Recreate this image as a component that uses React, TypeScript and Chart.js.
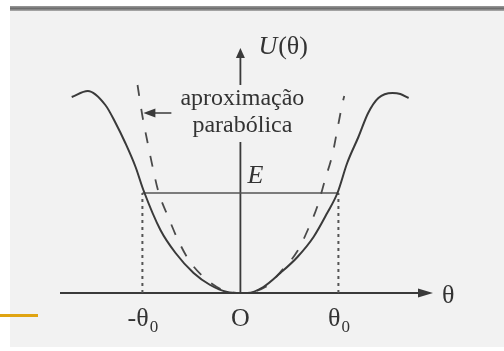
import { useEffect, useRef } from "react";
import { Chart, registerables } from "chart.js";

Chart.register(...registerables);

// Pendulum potential U(θ), sampled along the full well (θ in rad)
const potentialTheta = [-3.46, -3.13, -2.77, -2.56, -2.36, -2.15, -1.99, -1.64, -1.33, -0.96, -0.62, -0.27, 0, 0.14, 0.47, 0.82, 1.17, 1.5, 1.78, 1.99, 2.19, 2.42, 2.62, 2.83, 3.12, 3.28, 3.45];
const potentialU = [1.96, 2.02, 1.88, 1.7, 1.5, 1.26, 1.03, 0.63, 0.4, 0.2, 0.08, 0.01, 0, 0.0, 0.06, 0.2, 0.36, 0.56, 0.8, 1.0, 1.3, 1.56, 1.8, 1.95, 2.0, 1.99, 1.95];

// Small-angle (parabolic) approximation of the same well
const parabolaTheta = [-2.11, -2.01, -1.91, -1.8, -1.68, -1.48, -1.27, -1.03, -0.66, -0.31, 0, 0.51, 0.82, 1.17, 1.39, 1.58, 1.74, 1.89, 1.99, 2.09, 2.13];
const parabolaU = [2.08, 1.77, 1.52, 1.26, 1.01, 0.76, 0.52, 0.31, 0.12, 0.02, 0, 0.06, 0.21, 0.42, 0.64, 0.87, 1.14, 1.39, 1.64, 1.89, 1.97];

// Energy level and its turning points ±θ0
const THETA0 = 2.01;
const ENERGY = 1.0;

// θ-axis tick marks
const tickValues = [-THETA0, 0, THETA0];
const tickLabels = ["-θ", "O", "θ"];
const tickSubscripts = ["0", "", "0"];

const noteLines = ["aproximação", "parabólica"];
const axisLabelU = ["U", "(θ)"];
const axisLabelTheta = "θ";
const energyLabel = "E";

// Where the note's arrow points (on the parabola) and the break in the U axis
const noteArrowTip = { x: -1.99, y: 1.8 };
const axisBreak = [1.51, 2.08];

const SERIF = '"Liberation Serif", "Times New Roman", serif';
const INK = "#333333";
const LINE = "#3a3a3a";

const toPoints = (xs: number[], ys: number[]) => xs.map((x, i) => ({ x, y: ys[i] }));

function arrowHead(ctx: CanvasRenderingContext2D, tipX: number, tipY: number, dirX: number, dirY: number, len: number, half: number) {
  const bx = tipX - dirX * len;
  const by = tipY - dirY * len;
  ctx.beginPath();
  ctx.moveTo(tipX, tipY);
  ctx.lineTo(bx - dirY * half, by + dirX * half);
  ctx.lineTo(bx + dirY * half, by - dirX * half);
  ctx.closePath();
  ctx.fill();
}

const figurePlugin = {
  id: "pendulumFigure",
  beforeDraw(chart: any) {
    const { ctx, width, height } = chart;
    ctx.save();
    ctx.fillStyle = "#ffffff";
    ctx.fillRect(0, 0, width, height);
    // slide panel
    ctx.fillStyle = "#f2f2f2";
    ctx.fillRect(10, 8, width - 10, 339);
    const g = ctx.createLinearGradient(0, 6, 0, 11);
    g.addColorStop(0, "#9a9a9a");
    g.addColorStop(0.5, "#6e6e6e");
    g.addColorStop(1, "#b0b0b0");
    ctx.fillStyle = g;
    ctx.fillRect(10, 6, width - 10, 5);
    // accent bar
    ctx.fillStyle = "#e0a412";
    ctx.fillRect(0, 314, 38, 3);
    ctx.restore();
  },
  beforeDatasetsDraw(chart: any) {
    const { ctx, chartArea } = chart;
    const xs = chart.scales.x;
    const ys = chart.scales.y;
    const x0 = xs.getPixelForValue(0);
    const y0 = ys.getPixelForValue(0);
    ctx.save();
    ctx.strokeStyle = LINE;
    ctx.fillStyle = LINE;
    ctx.lineWidth = 1.8;
    // θ axis
    ctx.beginPath();
    ctx.moveTo(chartArea.left, y0);
    ctx.lineTo(chartArea.right - 10, y0);
    ctx.stroke();
    arrowHead(ctx, chartArea.right, y0, 1, 0, 15, 4.5);
    // U axis, broken around the note
    ctx.beginPath();
    ctx.moveTo(x0, y0);
    ctx.lineTo(x0, ys.getPixelForValue(axisBreak[0]));
    ctx.moveTo(x0, ys.getPixelForValue(axisBreak[1]));
    ctx.lineTo(x0, chartArea.top + 8);
    ctx.stroke();
    arrowHead(ctx, x0, chartArea.top, 0, -1, 10, 4.5);
    ctx.restore();
  },
  afterDatasetsDraw(chart: any) {
    const { ctx, chartArea } = chart;
    const xs = chart.scales.x;
    const ys = chart.scales.y;
    const x0 = xs.getPixelForValue(0);
    const y0 = ys.getPixelForValue(0);
    ctx.save();
    ctx.fillStyle = INK;
    ctx.textBaseline = "alphabetic";

    // U(θ)
    ctx.textAlign = "left";
    ctx.font = `italic 26px ${SERIF}`;
    const ux = x0 + 18;
    const uy = chartArea.top + 6;
    ctx.fillText(axisLabelU[0], ux, uy);
    const uw = ctx.measureText(axisLabelU[0]).width;
    ctx.font = `26px ${SERIF}`;
    ctx.fillText(axisLabelU[1], ux + uw + 1, uy);

    // θ
    ctx.font = `26px ${SERIF}`;
    ctx.fillText(axisLabelTheta, chartArea.right + 9, y0 + 10);

    // E
    ctx.font = `italic 26px ${SERIF}`;
    ctx.fillText(energyLabel, x0 + 7, ys.getPixelForValue(ENERGY) - 10);

    // note
    ctx.textAlign = "center";
    ctx.font = `24px ${SERIF}`;
    ctx.fillText(noteLines[0], x0 + 2, 105);
    ctx.fillText(noteLines[1], x0 + 2, 132);

    // note arrow
    const tx = xs.getPixelForValue(noteArrowTip.x);
    const ty = ys.getPixelForValue(noteArrowTip.y);
    ctx.strokeStyle = LINE;
    ctx.fillStyle = LINE;
    ctx.lineWidth = 1.5;
    ctx.beginPath();
    ctx.moveTo(tx + 8, ty);
    ctx.lineTo(tx + 28, ty);
    ctx.stroke();
    arrowHead(ctx, tx, ty, -1, 0, 12, 4.5);

    // tick labels
    ctx.fillStyle = INK;
    tickValues.forEach((v, i) => {
      const px = xs.getPixelForValue(v);
      ctx.font = `26px ${SERIF}`;
      const mw = ctx.measureText(tickLabels[i]).width;
      ctx.font = `17px ${SERIF}`;
      const sw = tickSubscripts[i] ? ctx.measureText(tickSubscripts[i]).width : 0;
      const left = px - (mw + sw) / 2;
      ctx.textAlign = "left";
      ctx.font = `26px ${SERIF}`;
      ctx.fillText(tickLabels[i], left, y0 + 33);
      if (tickSubscripts[i]) {
        ctx.font = `17px ${SERIF}`;
        ctx.fillText(tickSubscripts[i], left + mw + 1, y0 + 39);
      }
    });
    ctx.restore();
  },
};

export default function App() {
  const canvasRef = useRef<HTMLCanvasElement | null>(null);

  useEffect(() => {
    const canvas = canvasRef.current;
    if (!canvas) return;
    const chart = new Chart(canvas, {
      type: "line",
      data: {
        datasets: [
          {
            label: "U(θ)",
            data: toPoints(potentialTheta, potentialU),
            borderColor: LINE,
            borderWidth: 2,
            pointRadius: 0,
            cubicInterpolationMode: "monotone",
            fill: false,
          },
          {
            label: "aproximação parabólica",
            data: toPoints(parabolaTheta, parabolaU),
            borderColor: "#4a4a4a",
            borderWidth: 1.8,
            borderDash: [11, 13],
            pointRadius: 0,
            cubicInterpolationMode: "monotone",
            fill: false,
          },
          {
            label: "E",
            data: [
              { x: -THETA0, y: ENERGY },
              { x: THETA0, y: ENERGY },
            ],
            borderColor: "#555555",
            borderWidth: 1.5,
            pointRadius: 0,
            fill: false,
          },
          {
            label: "-θ0",
            data: [
              { x: -THETA0, y: 0 },
              { x: -THETA0, y: ENERGY },
            ],
            borderColor: "#555555",
            borderWidth: 2,
            borderDash: [3, 4],
            pointRadius: 0,
            fill: false,
          },
          {
            label: "θ0",
            data: [
              { x: THETA0, y: 0 },
              { x: THETA0, y: ENERGY },
            ],
            borderColor: "#555555",
            borderWidth: 2,
            borderDash: [3, 4],
            pointRadius: 0,
            fill: false,
          },
        ],
      },
      options: {
        animation: false,
        responsive: false,
        devicePixelRatio: 1,
        events: [],
        layout: { padding: { left: 60, right: 71, top: 48, bottom: 58 } },
        scales: {
          x: { type: "linear", min: -3.7, max: 3.95, display: false },
          y: { type: "linear", min: 0, max: 2.45, display: false },
        },
        plugins: {
          legend: { display: false },
          tooltip: { enabled: false },
        },
      },
      plugins: [figurePlugin],
    } as any);
    return () => chart.destroy();
  }, []);

  return (
    <div style={{ position: "absolute", left: 0, top: 0, width: 504, height: 351 }}>
      <canvas ref={canvasRef} width={504} height={351} style={{ display: "block" }} />
    </div>
  );
}
